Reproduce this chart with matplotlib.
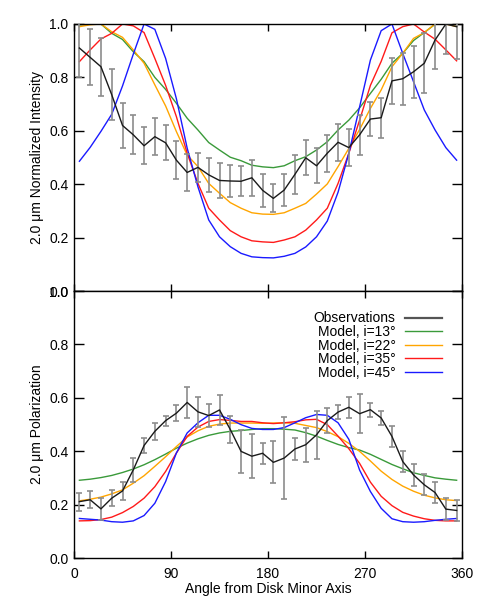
import numpy as np
import matplotlib
matplotlib.use("Agg")
import matplotlib.pyplot as plt
from matplotlib.lines import Line2D

plt.rcParams['font.family'] = ['Liberation Sans', 'DejaVu Sans']

angles = np.arange(5, 360, 10)

# ---- Intensity panel ----
int_obs = [0.91, 0.875, 0.84, 0.735, 0.62, 0.585, 0.544, 0.578, 0.555, 0.49, 0.444, 0.463,
           0.435, 0.414, 0.412, 0.411, 0.424, 0.377, 0.347, 0.378, 0.437, 0.499, 0.469, 0.516,
           0.557, 0.537, 0.585, 0.644, 0.649, 0.787, 0.795, 0.821, 0.853, 0.94, 1.0, 0.99]
int_err = [0.11, 0.105, 0.108, 0.095, 0.085, 0.073, 0.07, 0.07, 0.065, 0.07, 0.068, 0.055,
           0.064, 0.065, 0.06, 0.056, 0.067, 0.063, 0.052, 0.06, 0.074, 0.066, 0.065, 0.07,
           0.07, 0.07, 0.075, 0.062, 0.075, 0.086, 0.097, 0.097, 0.112, 0.107, 0.112, 0.12]
int_i13 = [0.997, 1.0, 1.0, 0.965, 0.942, 0.896, 0.859, 0.8, 0.755, 0.703, 0.647, 0.603,
           0.556, 0.528, 0.501, 0.488, 0.471, 0.465, 0.462, 0.469, 0.488, 0.503, 0.528, 0.559,
           0.603, 0.64, 0.686, 0.74, 0.793, 0.853, 0.89, 0.938, 0.968, 0.999, 1.0, 0.998]
int_i22 = [0.99, 0.997, 1.0, 0.971, 0.95, 0.903, 0.853, 0.772, 0.693, 0.597, 0.509, 0.466,
           0.403, 0.366, 0.331, 0.31, 0.293, 0.288, 0.287, 0.293, 0.31, 0.328, 0.363, 0.401,
           0.466, 0.534, 0.605, 0.684, 0.753, 0.84, 0.89, 0.946, 0.968, 1.0, 1.0, 0.99]
int_i35 = [0.859, 0.903, 0.944, 0.965, 1.0, 0.993, 0.968, 0.871, 0.77, 0.653, 0.516, 0.403,
           0.31, 0.266, 0.226, 0.203, 0.188, 0.184, 0.182, 0.191, 0.203, 0.228, 0.266, 0.31,
           0.403, 0.516, 0.64, 0.77, 0.86, 0.967, 0.99, 1.0, 0.97, 0.943, 0.903, 0.862]
int_i45 = [0.486, 0.538, 0.598, 0.662, 0.768, 0.887, 1.0, 0.98, 0.871, 0.72, 0.535, 0.39,
           0.266, 0.203, 0.166, 0.141, 0.128, 0.125, 0.124, 0.13, 0.141, 0.165, 0.203, 0.262,
           0.37, 0.516, 0.69, 0.865, 0.975, 1.0, 0.89, 0.784, 0.678, 0.603, 0.537, 0.49]

# ---- Polarization panel ----
pol_obs = [0.212, 0.219, 0.185, 0.225, 0.252, 0.331, 0.422, 0.475, 0.515, 0.543, 0.583, 0.548,
           0.534, 0.555, 0.482, 0.400, 0.382, 0.393, 0.359, 0.375, 0.409, 0.425, 0.462, 0.515,
           0.547, 0.565, 0.541, 0.556, 0.525, 0.456, 0.362, 0.312, 0.275, 0.246, 0.184, 0.179]
pol_err = [0.034, 0.031, 0.04, 0.031, 0.032, 0.045, 0.028, 0.031, 0.019, 0.029, 0.058, 0.057,
           0.044, 0.056, 0.05, 0.08, 0.083, 0.039, 0.079, 0.153, 0.042, 0.064, 0.09, 0.048,
           0.027, 0.04, 0.072, 0.026, 0.027, 0.04, 0.04, 0.04, 0.039, 0.04, 0.042, 0.04]
pol_i13 = [0.292, 0.296, 0.302, 0.31, 0.321, 0.334, 0.35, 0.369, 0.39, 0.412, 0.431, 0.447,
           0.46, 0.469, 0.475, 0.478, 0.482, 0.485, 0.485, 0.483, 0.48, 0.47, 0.457, 0.441,
           0.426, 0.414, 0.405, 0.389, 0.37, 0.351, 0.335, 0.32, 0.31, 0.301, 0.296, 0.292]
pol_i22 = [0.215, 0.221, 0.229, 0.241, 0.256, 0.281, 0.309, 0.344, 0.38, 0.418, 0.454, 0.477,
           0.494, 0.502, 0.506, 0.506, 0.506, 0.505, 0.506, 0.507, 0.505, 0.497, 0.489, 0.474,
           0.455, 0.43, 0.4, 0.364, 0.326, 0.295, 0.27, 0.251, 0.236, 0.226, 0.219, 0.216]
pol_i35 = [0.14, 0.141, 0.145, 0.154, 0.171, 0.194, 0.225, 0.268, 0.325, 0.394, 0.456, 0.491,
           0.512, 0.519, 0.516, 0.512, 0.512, 0.507, 0.504, 0.507, 0.511, 0.518, 0.52, 0.5,
           0.457, 0.41, 0.355, 0.285, 0.232, 0.197, 0.172, 0.158, 0.148, 0.142, 0.14, 0.14]
pol_i45 = [0.149, 0.146, 0.143, 0.137, 0.135, 0.14, 0.16, 0.206, 0.287, 0.394, 0.469, 0.507,
           0.535, 0.535, 0.52, 0.5, 0.486, 0.482, 0.482, 0.489, 0.507, 0.526, 0.538, 0.535,
           0.507, 0.445, 0.33, 0.25, 0.187, 0.148, 0.137, 0.135, 0.137, 0.142, 0.146, 0.149]

xticks = [0, 90, 180, 270, 360]
yticks = [0.0, 0.2, 0.4, 0.6, 0.8, 1.0]
labels = ['Observations', 'Model, i=13\u00b0', 'Model, i=22\u00b0',
          'Model, i=35\u00b0', 'Model, i=45\u00b0']
colors = ['#1a1a1a', '#3a9a3a', '#ffa500', '#ff1a1a', '#1a1aff']

FS = 10

fig = plt.figure(figsize=(4.85, 6.06), dpi=100)
ax1 = fig.add_axes([0.1526, 0.5198, 0.8, 0.4406])
ax2 = fig.add_axes([0.1526, 0.0787, 0.8, 0.4411])

def draw(ax, obs, err, models):
    for m, c in zip(models, colors[1:]):
        ax.plot(angles, m, color=c, lw=1.0, zorder=2)
    ax.errorbar(angles, obs, yerr=err, fmt='none', ecolor='#8c8c8c', elinewidth=1.2,
                capsize=2.5, capthick=1.2, zorder=3)
    ax.plot(angles, obs, color=colors[0], lw=1.0, zorder=4)
    ax.set_xlim(0, 360)
    ax.set_ylim(0, 1)
    ax.set_xticks(xticks)
    ax.set_yticks(yticks)
    ax.set_yticklabels([f'{v:.1f}' for v in yticks])
    ax.tick_params(direction='in', top=True, right=True, labelsize=FS, length=5, width=1)
    ax.tick_params(axis='x', pad=6)
    ax.tick_params(axis='y', length=7, pad=4)
    for s in ax.spines.values():
        s.set_linewidth(1.0)

draw(ax1, int_obs, int_err, [int_i13, int_i22, int_i35, int_i45])
draw(ax2, pol_obs, pol_err, [pol_i13, pol_i22, pol_i35, pol_i45])
ax1.set_xticklabels([])
ax2.set_xticklabels([str(t) for t in xticks])
ax1.set_ylabel('2.0 \u03bcm Normalized Intensity', fontsize=FS, labelpad=4)
ax2.set_ylabel('2.0 \u03bcm Polarization', fontsize=FS, labelpad=4)
ax2.set_xlabel('Angle from Disk Minor Axis', fontsize=FS, labelpad=1)

handles = [Line2D([], [], color='#555555', lw=1.6)] + \
          [Line2D([], [], color=c, lw=1.0) for c in colors[1:]]
leg = ax2.legend(handles, labels, loc='upper right', bbox_to_anchor=(0.97, 0.955),
                 frameon=False, markerfirst=False, fontsize=FS, handlelength=2.7,
                 handletextpad=0.65, labelspacing=-0.03, borderaxespad=0.2)
for t in leg.get_texts():
    t.set_ha('right')

fig.savefig('out.png', dpi=100)
